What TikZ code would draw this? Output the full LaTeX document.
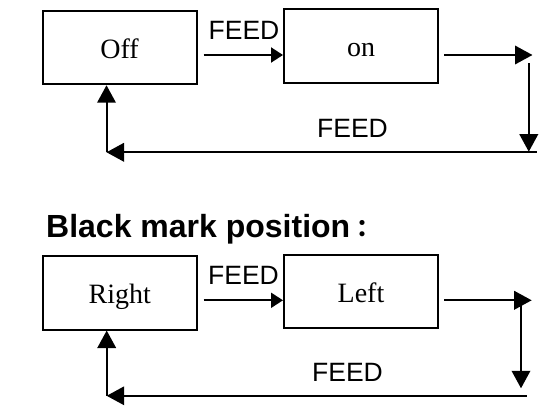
\documentclass[tikz,border=0pt]{standalone}
\usepackage{fontspec}
\setmainfont{Liberation Serif}
\setsansfont{Liberation Sans}
\newfontfamily\cjkfont{Noto Sans CJK JP}
\usetikzlibrary{arrows.meta, positioning}

\begin{document}
\begin{tikzpicture}[
  x=1pt, y=-1pt,
  state/.style={draw, line width=2pt, minimum width=154pt, minimum height=73.5pt, inner sep=0pt, text height=25.5pt, text depth=4pt, font=\fontsize{28}{30}\selectfont},
  feed/.style={inner sep=0pt, font=\sffamily\fontsize{26.5}{30}\selectfont},
  arrow/.style={-{Triangle[length=17.5pt, width=18.5pt]}, line width=2pt},
  small arrow/.style={-{Triangle[length=12pt, width=15pt]}, line width=2pt}
]
\useasboundingbox (0,0) rectangle (550,409);

\node[state] (off) at (119.5, 47.5) {Off};
\node[state] (on) at (361, 46.2) {on};
\node[feed] (feed1) at (244, 30.8) {FEED};
\node[feed] (feed2) at (352.5, 128.3) {FEED};

\coordinate (row1) at (0, 55);
\coordinate (out1) at (532.5, 55);
\coordinate (down1a) at (528.8, 63.3);
\coordinate (down1b) at (528.8, 151.7);
\coordinate (back1a) at (536.8, 152.3);
\coordinate (back1b) at (106.5, 152.3);

\draw[small arrow, shorten <=6pt] (off.east |- row1) -- (on.west |- row1);
\draw[arrow, shorten <=5pt] (on.east |- row1) -- (out1);
\draw[arrow] (down1a) -- (down1b);
\draw[arrow] (back1a) -- (back1b);
\draw[arrow] (back1b) -- (back1b |- off.south);

% Black mark position
\node[anchor=base west, inner sep=0pt, font=\sffamily\bfseries\fontsize{32}{36}\selectfont] (title) at (46, 237.7) {Black mark position{\cjkfont\bfseries\fontsize{24}{26}\selectfont ：}};

\node[state] (right) at (119.7, 292.8) {Right};
\node[state] (left) at (361, 291.3) {Left};
\node[feed] (feed3) at (243.5, 275) {FEED};
\node[feed] (feed4) at (347.5, 372.5) {FEED};

\coordinate (row2) at (0, 300.3);
\coordinate (out2) at (531.7, 300.3);
\coordinate (down2a) at (521, 305);
\coordinate (down2b) at (521, 388.3);
\coordinate (back2a) at (526.7, 395.8);
\coordinate (back2b) at (106.7, 395.8);

\draw[small arrow, shorten <=6pt] (right.east |- row2) -- (left.west |- row2);
\draw[arrow, shorten <=5pt] (left.east |- row2) -- (out2);
\draw[arrow] (down2a) -- (down2b);
\draw[arrow] (back2a) -- (back2b);
\draw[arrow] (back2b) -- (back2b |- right.south);
\end{tikzpicture}
\end{document}
